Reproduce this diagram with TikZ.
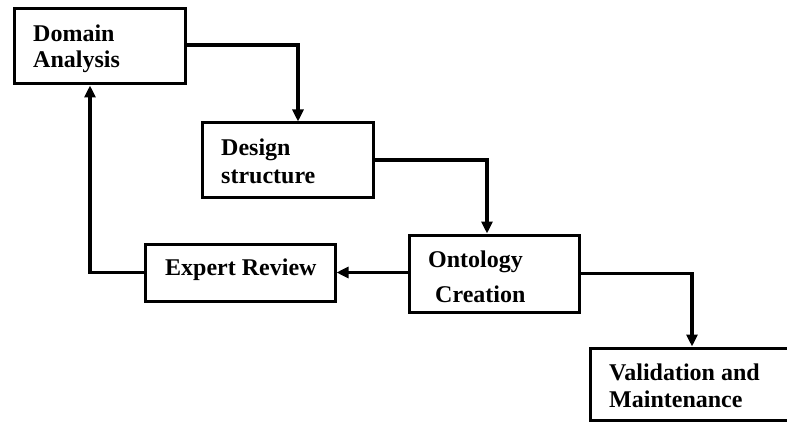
\documentclass[tikz,border=0pt]{standalone}
\usepackage{fontspec}
\setmainfont{Liberation Serif}
\usetikzlibrary{arrows.meta}
\begin{document}
\begin{tikzpicture}[x=1pt,y=-1pt,
  stage/.style={draw=black,line width=3pt,rectangle,inner sep=0pt},
  lbl/.style={anchor=base west,inner sep=0pt,font=\fontsize{24}{28}\selectfont\bfseries},
  flow/.style={line width=3.2pt,-{Triangle[length=12pt,width=11pt]}}]
  \useasboundingbox (0,0) rectangle (787,425);
  \fill[white] (0,0) rectangle (787,425);

  % process stages
  \node[stage,minimum width=171pt,minimum height=75pt] (dom) at (99.5,46.5) {};
  \node[stage,minimum width=171pt,minimum height=74pt] (des) at (287.5,160) {};
  \node[stage,minimum width=190pt,minimum height=57pt] (exp) at (240,272.5) {};
  \node[stage,minimum width=170pt,minimum height=77pt] (ont) at (494,273.5) {};
  \node[stage,minimum width=204pt,minimum height=72pt] (val) at (692,384) {};

  % stage labels
  \node[lbl] (domA) at (33,42) {Domain};
  \node[lbl] (domB) at (33,68) {Analysis};
  \node[lbl] (desA) at (221,155) {Design};
  \node[lbl] (desB) at (221,183) {structure};
  \node[lbl] (expA) at (165,275) {Expert Review};
  \node[lbl] (ontA) at (428,267) {Ontology};
  \node[lbl] (ontB) at (435,302) {Creation};
  \node[lbl] (valA) at (609,380) {Validation and};
  \node[lbl] (valB) at (609,407) {Maintenance};

  % connectors
  \draw[flow] ([yshift=1.5pt]dom.east) -| ([xshift=10.5pt]des.north);
  \draw[flow] (des.east) -| ([xshift=-7pt]ont.north);
  \draw[flow] (ont.west |- exp.east) -- (exp.east);
  \draw[flow] (exp.west) -| ([xshift=-9.5pt]dom.south);
  \draw[flow] (ont.east) -| (val.north);
\end{tikzpicture}
\end{document}
